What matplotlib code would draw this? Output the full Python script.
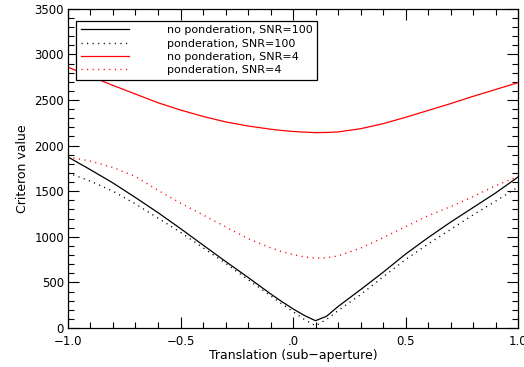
import matplotlib
matplotlib.use("Agg")
import matplotlib.pyplot as plt
from matplotlib.ticker import MultipleLocator, FixedLocator

# translation (sub-aperture)
shift = [-1.0, -0.9, -0.8, -0.7, -0.6, -0.5, -0.4, -0.3, -0.2, -0.1, -0.05,
         0.0, 0.05, 0.1, 0.15, 0.2, 0.3, 0.4, 0.5, 0.6, 0.7, 0.8, 0.9, 1.0]

# criterion values
nopond_snr100 = [1875, 1735, 1590, 1430, 1265, 1090, 910, 730, 555, 375, 290,
                 210, 138, 80, 130, 235, 420, 610, 810, 990, 1160, 1320, 1480, 1655]
pond_snr100 = [1700, 1610, 1500, 1360, 1205, 1050, 880, 710, 530, 355, 265,
               180, 95, 25, 95, 190, 365, 560, 750, 920, 1080, 1240, 1390, 1545]
nopond_snr4 = [2860, 2760, 2660, 2565, 2470, 2390, 2320, 2260, 2215, 2180, 2166,
               2155, 2148, 2142, 2144, 2150, 2185, 2240, 2310, 2385, 2460, 2540, 2615, 2690]
pond_snr4 = [1875, 1830, 1760, 1660, 1510, 1370, 1240, 1110, 980, 880, 838,
             805, 780, 765, 770, 790, 875, 990, 1110, 1230, 1330, 1440, 1560, 1660]

labels = ["no ponderation, SNR=100", "ponderation, SNR=100",
          "no ponderation, SNR=4", "ponderation, SNR=4"]

x_ticks = [-1.0, -0.5, 0.0, 0.5, 1.0]
x_ticklabels = ["\u22121.0", "\u22120.5", ".0", "0.5", "1.0"]
y_ticks = [0, 500, 1000, 1500, 2000, 2500, 3000, 3500]

plt.rcParams['font.family'] = ['DejaVu Sans']
fig = plt.figure(figsize=(5.24, 3.67), dpi=100)
ax = fig.add_axes([68 / 524, 1 - 328 / 367, 450 / 524, 319.2 / 367])

dots = (0, (0.8, 3.2))
ax.plot(shift, nopond_snr100, color="black", lw=0.9, label=labels[0])
ax.plot(shift, pond_snr100, color="black", lw=1.0, ls=dots, label=labels[1])
ax.plot(shift, nopond_snr4, color="red", lw=0.9, label=labels[2])
ax.plot(shift, pond_snr4, color="red", lw=1.0, ls=dots, label=labels[3])

ax.set_xlim(-1.0, 1.0)
ax.set_ylim(0, 3500)
ax.xaxis.set_major_locator(FixedLocator(x_ticks))
ax.set_xticklabels(x_ticklabels)
ax.yaxis.set_major_locator(FixedLocator(y_ticks))
ax.xaxis.set_minor_locator(MultipleLocator(0.1))
ax.yaxis.set_minor_locator(MultipleLocator(100))
ax.tick_params(which="both", direction="in", top=True, right=True,
               labelsize=8.5, width=0.8, color="black")
ax.tick_params(which="major", length=8, pad=5)
ax.tick_params(which="minor", length=4)
ax.tick_params(axis="y", pad=3)
for sp in ax.spines.values():
    sp.set_linewidth(0.9)

ax.set_xlabel("Translation (sub\u2212aperture)", fontsize=9, labelpad=1)
ax.set_ylabel("Criteron value", fontsize=9, labelpad=4)

leg = ax.legend(loc="upper left", bbox_to_anchor=(0.018, 0.962), fontsize=8,
                frameon=True, fancybox=False, edgecolor="black", framealpha=1,
                handlelength=4.4, handletextpad=3.4, labelspacing=0.3,
                borderpad=0.4, borderaxespad=0)
leg.get_frame().set_linewidth(0.9)

fig.savefig("out.png", dpi=100)
